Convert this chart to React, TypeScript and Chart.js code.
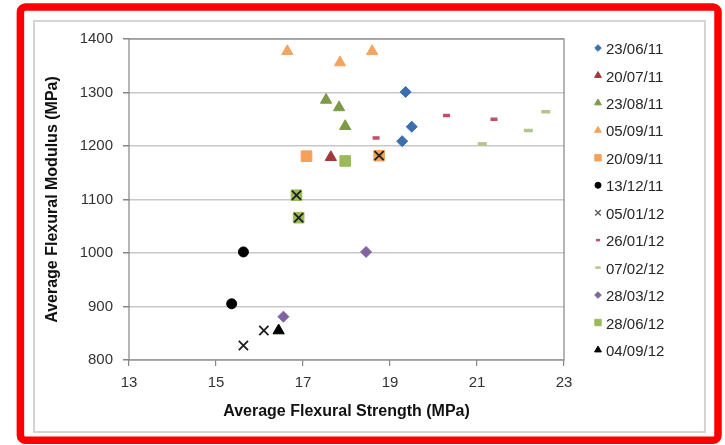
import React, { useEffect, useRef } from 'react';
import { Chart, registerables } from 'chart.js';
import { drawPoint } from 'chart.js/helpers';

Chart.register(...registerables);

// ---- data ----
const seriesLabels = ['23/06/11', '20/07/11', '23/08/11', '05/09/11', '20/09/11', '13/12/11', '05/01/12', '26/01/12', '07/02/12', '28/03/12', '28/06/12', '04/09/12'];

const s230611X = [19.36, 19.5, 19.28];
const s230611Y = [1301, 1236, 1209];
const s200711X = [17.64];
const s200711Y = [1179];
const s230811X = [17.53, 17.83, 17.97];
const s230811Y = [1286, 1272, 1237];
const s050911X = [16.64, 17.85, 18.59];
const s050911Y = [1377, 1356, 1377];
const s200911X = [17.08, 18.75];
const s200911Y = [1181, 1182];
const s131211X = [15.63, 15.36];
const s131211Y = [1002, 905];
const s050112X = [16.1, 15.63, 16.85, 16.9, 18.75];
const s050112Y = [855, 827, 1108, 1066, 1182];
const s260112X = [18.68, 20.3, 21.39];
const s260112Y = [1215, 1257, 1250];
const s070212X = [21.12, 22.18, 22.58];
const s070212Y = [1204, 1229, 1264];
const s280312X = [18.45, 16.55];
const s280312Y = [1002, 881];
const s280612X = [17.97, 16.85, 16.9];
const s280612Y = [1172, 1108, 1066];
const s040912X = [16.44];
const s040912Y = [855];

const xTicks = [13, 15, 17, 19, 21, 23];
const yTicks = [800, 900, 1000, 1100, 1200, 1300, 1400];

const seriesX = [s230611X, s200711X, s230811X, s050911X, s200911X, s131211X, s050112X, s260112X, s070212X, s280312X, s280612X, s040912X];
const seriesY = [s230611Y, s200711Y, s230811Y, s050911Y, s200911Y, s131211Y, s050112Y, s260112Y, s070212Y, s280312Y, s280612Y, s040912Y];

const styles = [
  { color: '#3d6fae', shape: 'rectRot', r: 5.5, bw: 1, legend: '#3d6fae' },
  { color: '#a0393d', shape: 'triangle', r: 6.5, bw: 1, legend: '#a0393d' },
  { color: '#7e9a48', shape: 'triangle', r: 6.5, bw: 1, legend: '#7e9a48' },
  { color: '#f3a462', shape: 'triangle', r: 6.5, bw: 1, legend: '#f3a462' },
  { color: '#f4a05a', shape: 'rect', r: 7.5, bw: 1, legend: '#f4a05a' },
  { color: '#000000', shape: 'circle', r: 5, bw: 1, legend: '#000000' },
  { color: '#1e1e1e', shape: 'crossRot', r: 6.5, bw: 1.8, legend: '#555555' },
  { color: '#c0506a', shape: 'line', r: 3.5, bw: 3.5, legend: '#c0506a' },
  { color: '#b3c68a', shape: 'line', r: 4.5, bw: 3.5, legend: '#b3c68a' },
  { color: '#8064a2', shape: 'rectRot', r: 5.5, bw: 1, legend: '#8064a2' },
  { color: '#9bbb59', shape: 'rect', r: 7.5, bw: 1, legend: '#9bbb59' },
  { color: '#000000', shape: 'triangle', r: 6.5, bw: 1, legend: '#000000' },
];

const FONT = '"Liberation Sans", Arial, Helvetica, sans-serif';

const framePlugin = {
  id: 'frame',
  beforeDraw(chart: any) {
    const ctx = chart.ctx;
    ctx.save();
    ctx.fillStyle = '#ffffff';
    ctx.fillRect(0, 0, chart.width, chart.height);
    // red outer frame
    ctx.strokeStyle = '#ff0000';
    ctx.lineWidth = 7.5;
    const x0 = 20.4, y0 = 7, x1 = 718, y1 = 440.3, rr = 5;
    ctx.beginPath();
    ctx.moveTo(x0 + rr, y0);
    ctx.lineTo(x1 - rr, y0);
    ctx.arcTo(x1, y0, x1, y0 + rr, rr);
    ctx.lineTo(x1, y1 - rr);
    ctx.arcTo(x1, y1, x1 - rr, y1, rr);
    ctx.lineTo(x0 + rr, y1);
    ctx.arcTo(x0, y1, x0, y1 - rr, rr);
    ctx.lineTo(x0, y0 + rr);
    ctx.arcTo(x0, y0, x0 + rr, y0, rr);
    ctx.closePath();
    ctx.stroke();
    // gray inner frame
    ctx.strokeStyle = '#d4d4d4';
    ctx.lineWidth = 2;
    ctx.strokeRect(34, 21, 671, 411);
    ctx.restore();
  },
  beforeDatasetsDraw(chart: any) {
    const { ctx, chartArea } = chart;
    ctx.save();
    ctx.strokeStyle = '#858585';
    ctx.lineWidth = 1.2;
    ctx.strokeRect(chartArea.left, chartArea.top, chartArea.right - chartArea.left, chartArea.bottom - chartArea.top);
    ctx.restore();
  },
  afterDraw(chart: any) {
    const ctx = chart.ctx;
    ctx.save();
    ctx.font = `15px ${FONT}`;
    ctx.textBaseline = 'middle';
    ctx.textAlign = 'left';
    seriesLabels.forEach((lab, i) => {
      const y = 49 + i * 27.45;
      const st = styles[i];
      ctx.fillStyle = st.legend;
      ctx.strokeStyle = st.legend;
      ctx.lineWidth = st.shape === 'line' ? 2.5 : st.shape === 'crossRot' ? 1.3 : st.bw;
      drawPoint(ctx, { pointStyle: st.shape as any, radius: st.r * 0.6, borderWidth: ctx.lineWidth, rotation: 0 } as any, 598, y - 1);
      ctx.fillStyle = '#262626';
      ctx.fillText(lab, 606, y + 1);
    });
    ctx.restore();
  },
};

export default function App() {
  const ref = useRef<HTMLCanvasElement | null>(null);
  useEffect(() => {
    if (!ref.current) return;
    const datasets = seriesLabels.map((lab, i) => ({
      label: lab,
      data: seriesX[i].map((x, j) => ({ x, y: seriesY[i][j] })),
      pointStyle: styles[i].shape,
      pointRadius: styles[i].r,
      pointBorderWidth: styles[i].bw,
      backgroundColor: styles[i].color,
      borderColor: styles[i].color,
      showLine: false,
      order: i === 6 ? -1 : i,
    }));
    const chart = new Chart(ref.current, {
      type: 'scatter',
      data: { datasets: datasets as any },
      options: {
        animation: false,
        responsive: false,
        devicePixelRatio: 1,
        layout: { padding: { left: 30, top: 39, right: 161, bottom: 24 } },
        plugins: { legend: { display: false }, tooltip: { enabled: false } },
        scales: {
          x: {
            type: 'linear',
            min: xTicks[0],
            max: xTicks[xTicks.length - 1],
            afterBuildTicks: (s: any) => { s.ticks = xTicks.map((v) => ({ value: v })); },
            afterFit: (s: any) => { s.height = 61; },
            border: { display: false },
            grid: { drawOnChartArea: false, drawTicks: true, tickLength: 6, tickColor: '#858585', lineWidth: 1.2 },
            ticks: { font: { family: FONT, size: 15 }, color: '#333333', padding: 8, maxRotation: 0, callback: (v: any) => String(v) },
            title: { display: true, text: 'Average Flexural Strength (MPa)', font: { family: FONT, size: 16, weight: 'bold' }, color: '#111111', padding: { top: 10, bottom: 0 } },
          },
          y: {
            type: 'linear',
            min: yTicks[0],
            max: yTicks[yTicks.length - 1],
            afterBuildTicks: (s: any) => { s.ticks = yTicks.map((v) => ({ value: v })); },
            afterFit: (s: any) => { s.width = 99; },
            border: { display: false },
            grid: { color: '#c8c8c8', lineWidth: 1.5, drawTicks: true, tickLength: 6, tickColor: '#858585' },
            ticks: { font: { family: FONT, size: 15 }, color: '#333333', padding: 10, callback: (v: any) => String(v) },
            title: { display: true, text: 'Average Flexural Modulus (MPa)', font: { family: FONT, size: 16, weight: 'bold' }, color: '#111111', padding: { top: 13, bottom: 0 } },
          },
        },
      },
      plugins: [framePlugin],
    });
    return () => chart.destroy();
  }, []);
  return (
    <div style={{ position: 'fixed', left: 0, top: 0, width: 725, height: 445, background: '#fff' }}>
      <canvas ref={ref} width={725} height={445} style={{ display: 'block' }} />
    </div>
  );
}
